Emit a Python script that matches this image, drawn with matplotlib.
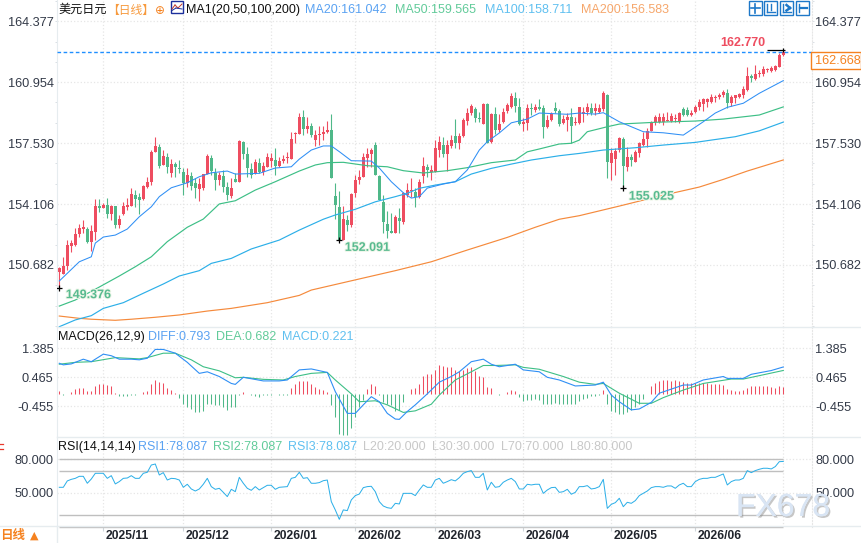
import matplotlib
matplotlib.use("Agg")
import matplotlib.pyplot as plt
import matplotlib.patheffects as pe
import numpy as np
from matplotlib.lines import Line2D
from matplotlib.patches import Rectangle
from matplotlib.ticker import AutoMinorLocator
from matplotlib.transforms import ScaledTranslation

plt.rcParams["font.family"] = ["Liberation Sans", "Noto Sans CJK SC", "DejaVu Sans"]

W, H = 862, 543

opens = [
    150.30,150.17,150.62,151.75,151.80,152.42,152.68,152.70,151.99,152.55,
    153.99,153.90,154.05,153.54,153.99,152.93,153.54,153.92,154.01,154.61,
    154.48,154.37,155.08,155.32,157.03,157.31,156.30,156.75,155.85,156.35,
    156.13,155.91,155.29,155.68,155.29,154.95,155.01,155.79,156.69,155.85,
    155.46,155.68,155.06,154.56,155.51,155.34,157.59,156.92,156.07,155.85,
    156.41,155.91,156.19,156.52,156.58,156.24,156.52,156.69,156.64,158.04,
    158.04,159.00,158.32,158.49,157.70,157.99,158.04,158.15,158.27,154.56,
    153.94,152.10,153.21,152.93,154.72,155.46,155.62,156.69,156.92,157.42,
    155.68,154.22,152.98,152.59,152.48,153.32,153.09,154.61,154.84,154.78,
    154.50,155.68,156.19,155.91,155.91,157.14,157.42,156.92,157.37,157.93,
    157.54,157.93,158.77,159.22,159.45,158.94,158.60,159.73,157.59,159.17,
    158.27,158.72,159.33,159.56,160.06,159.56,158.60,158.66,159.50,159.39,
    159.56,159.50,158.43,158.83,159.50,159.33,158.66,158.83,159.00,158.66,
    158.66,159.17,159.28,159.50,159.33,159.28,159.45,160.23,156.41,156.64,
    157.14,157.76,156.19,156.75,156.47,156.97,157.42,157.76,158.21,158.72,
    158.72,158.72,158.77,158.77,158.88,158.72,159.45,159.39,159.11,159.28,
    159.56,159.73,159.84,159.84,160.06,160.12,160.23,160.34,159.78,160.06,
    160.12,160.23,160.51,161.30,161.13,161.41,161.41,161.64,161.58,161.64,
    161.81,162.46,
]
highs = [
    150.58,151.14,152.08,152.08,152.74,152.98,153.21,152.80,152.93,154.37,
    154.37,154.18,154.43,154.05,153.99,153.49,154.23,154.43,155.02,154.89,
    154.71,155.17,155.64,157.14,157.87,157.48,157.14,156.97,156.64,156.47,
    156.58,156.13,156.13,155.91,155.57,155.57,155.79,156.92,156.86,156.13,
    155.91,156.02,155.34,155.57,155.85,157.70,157.65,157.31,156.41,156.64,
    156.69,156.47,156.97,156.97,157.25,156.75,156.86,157.03,158.15,158.15,
    159.22,159.39,159.00,158.66,158.27,158.49,158.49,158.77,159.17,155.29,
    154.84,153.99,153.49,154.72,155.74,156.02,156.97,157.25,157.25,157.59,
    155.74,154.61,153.71,153.60,153.49,153.88,154.78,155.29,155.57,155.01,
    155.51,156.75,156.35,156.30,157.70,157.93,157.87,157.70,157.99,158.88,
    158.10,158.94,159.50,159.73,159.56,159.28,159.78,159.78,159.22,159.56,
    159.17,159.50,159.78,160.34,160.40,160.06,158.94,159.73,159.78,159.73,
    160.01,159.67,159.11,159.28,159.84,159.45,159.11,159.22,159.50,159.00,
    159.56,159.56,159.78,159.78,159.78,159.73,160.46,160.29,157.25,157.25,
    157.87,157.87,157.31,156.92,157.14,157.59,158.15,158.38,158.77,159.11,
    159.22,159.22,159.28,159.22,159.17,159.28,159.56,159.56,159.39,159.67,
    160.01,160.06,160.06,160.29,160.23,160.34,160.51,160.57,160.23,160.23,
    160.34,160.74,161.81,161.41,161.92,161.64,161.86,161.75,161.86,161.92,
    162.60,162.77,
]
lows = [
    149.376,150.17,150.40,151.43,151.75,152.23,152.49,151.90,151.46,152.08,
    153.67,153.86,153.30,153.21,152.77,152.77,153.49,153.77,153.99,153.95,
    153.54,154.33,154.99,155.17,157.03,156.13,156.30,155.85,155.62,155.62,
    155.85,154.61,155.06,154.89,154.44,154.27,154.89,155.79,155.74,154.89,
    155.17,154.78,154.33,154.44,155.34,155.34,156.64,155.62,155.57,155.79,
    155.85,155.74,156.19,156.19,155.74,156.19,156.41,156.41,156.64,157.54,
    158.04,157.99,158.10,157.87,157.37,157.42,157.70,158.10,155.57,153.26,
    152.091,152.10,152.59,152.81,154.50,155.23,155.62,156.19,156.19,155.74,
    154.33,152.48,152.19,152.48,152.48,152.48,152.98,154.50,154.50,153.94,
    154.44,155.29,155.62,155.46,155.91,156.75,156.75,155.96,157.25,157.25,
    157.20,157.87,158.55,159.11,158.72,158.72,158.60,157.54,157.54,158.04,
    158.15,158.66,159.22,159.50,159.28,158.55,158.21,158.27,159.11,159.28,
    159.39,157.82,158.38,158.77,159.22,158.49,158.60,158.21,157.54,158.55,
    158.60,158.72,159.11,159.11,159.11,159.22,159.33,155.57,155.46,155.74,
    157.03,155.025,155.96,156.24,156.47,156.75,157.37,157.31,158.21,158.55,
    158.66,158.55,158.77,158.72,158.72,158.66,159.05,159.05,159.05,159.22,
    159.39,159.33,159.56,159.78,159.84,160.01,160.12,159.50,159.61,159.78,
    160.06,160.06,160.46,160.96,161.08,161.24,161.30,161.52,161.52,161.58,
    161.81,162.40,
]
closes = [
    150.49,150.62,151.80,151.90,152.42,152.74,152.80,151.99,152.59,153.99,
    153.90,154.05,153.54,154.01,152.93,153.26,153.99,154.05,154.67,154.39,
    154.33,155.12,155.32,157.03,157.37,156.24,156.80,156.19,156.35,156.19,
    156.07,155.29,155.74,155.12,155.01,155.23,155.79,156.80,155.96,155.46,
    155.74,155.06,154.61,155.01,155.34,157.65,156.92,156.13,155.74,156.47,
    155.91,156.24,156.75,156.69,156.24,156.52,156.64,156.75,157.76,158.10,
    159.00,158.32,158.49,157.99,157.99,158.04,158.15,158.27,155.57,154.05,
    152.10,153.26,152.93,154.67,155.46,155.62,156.75,156.92,157.14,155.74,
    154.33,153.09,152.59,152.48,153.38,153.15,154.72,154.89,154.89,154.50,
    155.34,156.24,156.02,156.02,157.25,157.59,156.92,157.42,157.70,157.54,
    157.93,158.83,159.22,159.61,158.94,158.88,159.73,157.54,159.17,158.27,
    158.60,159.28,159.67,160.18,159.61,158.60,158.72,159.50,159.45,159.56,
    159.45,158.43,158.83,159.17,159.33,158.60,158.88,159.00,158.49,158.72,
    159.56,159.28,159.56,159.22,159.50,159.50,160.34,156.47,156.97,157.09,
    157.82,156.24,156.75,156.58,157.03,157.54,157.76,158.21,158.66,159.00,
    159.00,159.00,158.83,159.05,158.94,159.22,159.11,159.11,159.22,159.56,
    159.84,160.01,160.01,160.12,160.12,160.23,160.40,159.78,160.12,160.23,
    160.29,160.57,161.30,161.19,161.41,161.47,161.69,161.69,161.75,161.86,
    162.48,162.668,
]

# moving averages: (bar index, value)
ma20_idx = [0,5,8,9,11,14,17,20,23,25,28,32,35,38,42,44,50,54,58,60,63,66,68,70,73,78,80,83,86,88,90,92,96,99,102,105,107,110,113,117,120,127,130,134,136,140,146,151,156,161,164,167,171,175,181]
ma20 = [149.78,150.86,151.14,151.91,152.25,152.36,152.70,153.39,153.95,154.52,155.02,155.30,155.64,155.86,155.96,155.79,155.83,156.13,156.20,156.63,157.14,157.37,157.37,157.05,156.54,156.52,156.13,155.36,154.74,154.44,154.52,155.00,155.23,155.36,156.02,157.14,157.61,158.10,158.67,158.88,159.22,159.15,159.22,159.16,159.24,158.73,158.17,158.11,157.98,158.73,159.22,159.54,159.77,160.33,161.042]
ma50_idx = [0,4,10,15,19,23,27,32,36,40,44,49,54,60,64,67,71,77,82,86,91,97,102,108,114,117,120,125,128,130,132,137,140,149,159,166,175,181]
ma50 = [148.37,148.71,149.44,150.06,150.58,151.14,151.99,152.80,153.26,154.11,154.29,154.89,155.36,155.96,156.30,156.43,156.45,156.26,156.20,155.98,155.85,155.98,156.15,156.43,156.58,157.04,157.20,157.48,157.52,157.70,158.17,158.45,158.60,158.70,158.77,158.88,159.11,159.565]
ma100_idx = [0,4,8,11,16,21,26,30,35,38,43,48,55,60,66,69,74,79,84,87,90,94,99,103,108,113,118,125,130,136,144,151,159,163,169,175,181]
ma100 = [147.21,147.59,147.83,148.24,148.56,149.09,149.61,150.06,150.36,150.77,151.05,151.58,152.08,152.64,153.25,153.49,153.81,154.23,154.52,154.71,154.99,155.17,155.36,155.79,156.11,156.35,156.58,156.82,156.95,157.14,157.27,157.42,157.57,157.70,157.89,158.22,158.711]
ma200_idx = [0,5,8,14,18,24,30,37,43,52,60,63,73,84,93,102,112,119,125,130,140,150,160,166,172,181]
ma200 = [147.81,147.68,147.63,147.57,147.63,147.74,147.87,148.09,148.24,148.56,148.97,149.27,149.79,150.36,150.86,151.52,152.23,152.80,153.25,153.45,153.99,154.55,155.06,155.49,155.96,156.583]

diff_idx = [0,1,3,6,8,11,13,15,18,20,22,24,26,29,32,35,37,40,43,44,46,51,55,57,60,63,67,69,72,74,76,78,80,82,84,85,87,89,92,95,98,100,103,106,108,110,114,116,120,122,125,129,134,136,138,140,143,145,148,150,153,156,158,161,166,167,171,173,178,181]
diff = [0.91,0.86,0.89,1.04,0.96,1.20,1.15,1.04,1.04,1.02,1.07,1.35,1.35,1.23,0.94,0.59,0.64,0.49,0.27,0.24,0.465,0.35,0.35,0.38,0.70,0.73,0.62,0.01,-0.68,-0.68,-0.41,-0.15,-0.31,-0.68,-0.86,-0.87,-0.62,-0.41,-0.06,0.31,0.49,0.64,0.96,1.04,0.88,0.80,0.88,0.70,0.64,0.465,0.38,0.19,0.22,0.31,-0.10,-0.31,-0.57,-0.54,-0.33,-0.04,0.09,0.22,0.22,0.38,0.49,0.43,0.43,0.56,0.68,0.793]
dea_idx = [0,4,8,14,20,22,26,29,33,36,40,44,46,51,56,59,63,67,69,73,75,79,82,86,89,93,95,99,103,106,109,114,116,120,126,130,134,136,140,145,148,151,156,161,168,171,174,181]
dea = [0.88,0.94,0.96,1.09,1.05,1.09,1.23,1.23,1.02,0.80,0.67,0.45,0.465,0.40,0.38,0.49,0.59,0.62,0.38,-0.06,-0.31,-0.28,-0.41,-0.65,-0.60,-0.39,-0.10,0.38,0.64,0.84,0.84,0.86,0.78,0.72,0.49,0.31,0.24,0.27,-0.04,-0.36,-0.36,-0.18,0.06,0.27,0.41,0.41,0.49,0.682]
macd_hist = [
    .08,-.05,-.03,.05,.15,.19,.18,.08,.08,.25,
    .30,.30,.28,.23,.02,-.08,-.08,-.07,-.04,-.04,
    -.03,.04,.07,.30,.44,.37,.34,.19,.11,.03,
    -.13,-.34,-.42,-.49,-.58,-.58,-.55,-.34,-.34,-.36,
    -.38,-.44,-.53,-.44,-.42,-.06,.04,-.03,-.04,-.08,
    -.11,-.06,-.05,-.04,-.03,-.05,-.04,-.05,.16,.30,
    .39,.39,.39,.30,.21,.14,.11,.06,-.35,-.76,
    -1.27,-1.32,-1.32,-1.11,-.74,-.42,-.19,.13,.29,.23,
    -.06,-.26,-.32,-.37,-.55,-.53,-.26,-.03,.13,.19,
    .30,.55,.61,.63,.76,.90,.87,.83,.83,.76,
    .72,.76,.80,.83,.72,.56,.53,.22,.19,-.02,
    -.05,-.03,.05,.11,.08,-.11,-.23,-.21,-.19,-.17,
    -.19,-.32,-.34,-.34,-.29,-.32,-.32,-.34,-.34,-.34,
    -.23,-.16,-.13,-.08,-.08,-.05,.11,-.34,-.56,-.58,
    -.66,-.66,-.58,-.53,-.42,-.32,-.16,-.03,.23,.32,
    .40,.42,.42,.40,.42,.40,.37,.34,.32,.32,
    .32,.34,.32,.30,.30,.29,.26,.13,.10,.07,
    .07,.10,.19,.24,.24,.24,.24,.24,.21,.19,
    .24,.221,
]
rsi = [
    55,55,60.7,62.1,63,64.8,64.8,58.6,62.4,67.5,
    67.5,67.5,63,65.4,58,60.1,63,63.3,65.4,63,
    63,67.5,68.4,74.9,75.8,66,68.1,61.5,63,62.7,
    61.5,55,57.7,53.5,51.7,53.5,57.7,63,55.6,53.2,
    54.1,50.5,46.7,53.2,51.1,63.9,58.6,54.1,52.3,55.6,
    52.6,54.7,56.8,56.8,53.2,55,55.3,55.6,63,63.9,
    68.4,63,63.6,58.6,58.6,59.2,60.9,61.5,42.2,34.8,
    26.4,34.8,34.2,43.7,47.6,49,54.7,55.6,55.9,51.1,
    42.2,38.3,36.8,36.2,40.7,40.1,49.6,49.6,49.6,47.6,
    52.6,57.1,55,
    55,61.5,63,58.6,60.1,61.8,60.7,63.6,67.5,69,
    69.9,63.9,63.9,67.5,52.6,59.5,55,55.6,59.5,61.5,
    63,60.1,53.5,53.5,57.7,57.1,57.7,57.7,49.6,52.6,
    54.7,55,50.5,51.1,53.2,48.8,50.5,55.6,55.6,56.5,
    53.5,54.1,55.6,62.1,36.2,39.8,41.3,45.2,37.7,41.6,
    40.7,43.1,47.6,49.6,51.7,54.7,55.6,55.6,55,56.2,
    56.2,54.1,57.1,58.6,55.6,55.6,60.1,62.1,63,63,
    63.9,63.9,65.4,66.9,57.1,60.1,61.5,61.5,63,69.9,
    68.1,69.9,71.1,72,72,71.4,73.5,77.9,78.087,
]
rsi_levels = [20, 30, 70, 80]

month_idx = [11, 31, 53, 74, 94, 116, 138, 159]
month_labels = ["2025/11", "2025/12", "2026/01", "2026/02", "2026/03", "2026/04", "2026/05", "2026/06"]
price_ticks = [164.377, 160.954, 157.530, 154.106, 150.682]
macd_ticks = [1.385, 0.465, -0.455]
rsi_ticks = [80, 50]
last_price = 162.668
marked_lows = [(0, 149.376), (70, 152.091), (141, 155.025)]
marked_high = (181, 162.770)

RED = "#ee4d60"
GREEN = "#4fb889"
C_MA20 = "#2f8ff5"
C_MA50 = "#3dbf86"
C_MA100 = "#2cafe8"
C_MA200 = "#f58a3c"
C_GRID = "#e6e6e6"
C_LINE = "#e6ecef"
C_TICK = "#333a48"
ORANGE = "#f58220"


def fx(px):
    return px / W


def fy(py):
    return 1 - py / H


def panel(top, bottom):
    # axes placed in pixel rows, x range is shared
    ax = fig.add_axes([fx(57), fy(bottom), fx(812 - 57), (bottom - top) / H])
    ax.set_xlim((57 - 59.3) / 4, (812 - 59.3) / 4)
    ax.set_facecolor("none")
    ax.grid(True, linestyle=":", color=C_GRID, linewidth=0.9)
    ax.set_axisbelow(True)
    ax.set_xticks(month_idx)
    ax.set_xticklabels([])
    ax.axvline(181, linestyle=":", color=C_GRID, linewidth=0.9, zorder=0)
    ax.spines["top"].set_visible(False)
    ax.spines["bottom"].set_visible(False)
    ax.spines["left"].set_color(C_LINE)
    ax.spines["right"].set_color(C_GRID)
    ax.spines["right"].set_linestyle(":")
    ax.tick_params(axis="x", length=0)
    ax.tick_params(axis="y", which="major", length=0, labelsize=9.2, labelcolor=C_TICK,
                   labelleft=True, labelright=True, pad=2.4)
    return ax


def fig_text(x, y, s, color="#111111", size=9, **kw):
    return fig.text(fx(x), fy(y), s, color=color, fontsize=size, va="center", ha=kw.pop("ha", "left"), **kw)


def fig_line(x0, y0, x1, y1, color=C_LINE, lw=1.0):
    fig.add_artist(Line2D([fx(x0), fx(x1)], [fy(y0), fy(y1)], color=color, linewidth=lw))


def fig_box(x0, y0, x1, y1, edge, face="white", lw=1.0):
    fig.add_artist(Rectangle((fx(x0), fy(y1)), (x1 - x0) / W, (y1 - y0) / H,
                             edgecolor=edge, facecolor=face, linewidth=lw,
                             transform=fig.transFigure))


fig = plt.figure(figsize=(W / 100, H / 100), dpi=100, facecolor="white")

x = np.arange(len(closes))
o, h, l, c = map(np.array, (opens, highs, lows, closes))
up = c >= o
colors = np.where(up, RED, GREEN)

# candles + moving averages
ax_main = panel(0, 327)
ax_main.set_ylim(165.574 - 0.05621 * 327, 165.574)
ax_main.set_yticks(price_ticks)
ax_main.set_yticklabels([f"{v:.3f}" for v in price_ticks])
ax_main.yaxis.set_minor_locator(AutoMinorLocator(3))
ax_main.tick_params(axis="y", which="minor", length=1.5, color="#d5dbe0", left=True, right=True)
ax_main.vlines(x, l, h, colors=colors, linewidth=0.8, zorder=2)
ax_main.bar(x, np.maximum(np.abs(c - o), 0.05), bottom=np.minimum(o, c), width=0.76,
            color=colors, linewidth=0, zorder=2)
for idx, vals, col, lw in [(ma200_idx, ma200, C_MA200, 0.85), (ma100_idx, ma100, C_MA100, 0.85),
                           (ma50_idx, ma50, C_MA50, 0.85), (ma20_idx, ma20, C_MA20, 0.75)]:
    ax_main.plot(idx, vals, color=col, linewidth=lw, zorder=3)
ax_main.axhline(last_price, color="#1f8fff", linewidth=1.0, dashes=(2.6, 1.8), zorder=3)

# extreme markers with their values
for i, val in marked_lows:
    ax_main.plot(i, val, "+", color="black", markersize=5, markeredgewidth=0.9, zorder=4)
    off = {0: (6.5, -7), 70: (5.5, -8), 141: (5.5, -9)}[i]
    ax_main.annotate(f"{val:.3f}", (i, val), xytext=off, textcoords="offset pixels",
                     color="#58ba90", fontsize=9, fontweight="bold", ha="left", va="center",
                     path_effects=[pe.withStroke(linewidth=1.4, foreground="#eef6e8")])
hi_i, hi_v = marked_high
ax_main.hlines(hi_v, hi_i - 4, hi_i + 0.5, color="black", linewidth=0.9, zorder=4)
ax_main.vlines(hi_i, hi_v - 0.1, hi_v + 0.1, color="black", linewidth=0.9, zorder=4)
ax_main.annotate(f"{hi_v:.3f}", (hi_i, hi_v), xytext=(-18, 6.5), textcoords="offset pixels",
                 color=RED, fontsize=9, fontweight="bold", ha="right", va="center")

# MACD
ax_macd = panel(327, 436.5)
ax_macd.set_ylim(0.465 + (377.3 - 436.5) / 31.5, 0.465 + (377.3 - 327) / 31.5)
ax_macd.set_yticks(macd_ticks)
ax_macd.set_yticklabels([f"{v:.3f}" for v in macd_ticks])
hist = np.array(macd_hist)
hist_base = -0.05
ax_macd.vlines(x, hist_base, hist_base + hist, colors=np.where(hist >= 0, RED, GREEN), linewidth=0.75, zorder=2)
ax_macd.plot(dea_idx, dea, color=C_MA50, linewidth=0.8, zorder=3)
ax_macd.plot(diff_idx, diff, color=C_MA20, linewidth=0.8, zorder=3)

# RSI
ax_rsi = panel(436.5, 526.5)
ax_rsi.set_ylim(20, 80 + (459.3 - 436.5) / 1.12)
ax_rsi.set_yticks(rsi_ticks)
ax_rsi.set_yticklabels([f"{v:.3f}" for v in rsi_ticks])
ax_rsi.hlines(rsi_levels, 0, x[-1], color="#bfbfbf", linewidth=1.0, zorder=2, clip_on=False)
ax_rsi.plot(x, rsi, color="#2cafe8", linewidth=0.72, zorder=3)
ax_rsi.tick_params(axis="x", length=3, color="#cfd6da", pad=-0.8)
ax_rsi.set_xticklabels(month_labels, ha="left", fontweight="bold", fontsize=8.7, color="#20242c")
for lbl in ax_rsi.get_xticklabels():
    lbl.set_transform(lbl.get_transform() + ScaledTranslation(2 / 100, 0, fig.dpi_scale_trans))

# panel separators and the bottom band
fig_line(57, 327, 862, 327)
fig_line(57, 436.7, 862, 436.7)
fig_line(0, 526, 862, 526)
fig_line(57, 526, 57, 543)
fig_line(0, 443.5, 3, 443.5, color="#e8382c", lw=0.9)
fig_line(0, 448.5, 3, 448.5, color="#e8382c", lw=0.9)

# header row of the price panel
fig_text(58, 10, "美元日元", size=8.7)
fig_text(107, 10.5, "【日线】", color="#f79a3e", size=8.5)
fig_text(160, 11, "⊕", color=ORANGE, size=8.5, ha="center", family=["DejaVu Sans"])
fig_box(172, 2, 184, 14, "none", face="#8a8fa0", lw=0)
fig_box(171, 1, 182.5, 12.5, "#1c2f9c", lw=1.0)
fig_line(172, 9, 175, 5, color="#c0392b", lw=0.7)
fig_line(175, 5, 178, 8, color="#c0392b", lw=0.7)
fig_line(178, 8, 182, 4, color="#c0392b", lw=0.7)
fig_line(172, 10.5, 176, 8, color="#1c2f9c", lw=0.7)
fig_line(176, 8, 182, 9, color="#1c2f9c", lw=0.7)
fig_text(186, 10, "MA1(20,50,100,200)")
fig_text(305, 10, f"MA20:{ma20[-1]:.3f}", color="#5aa2f2")
fig_text(395, 10, f"MA50:{ma50[-1]:.3f}", color="#62cb9a")
fig_text(485, 10, f"MA100:{ma100[-1]:.3f}", color="#60c0f0")
fig_text(581, 10, f"MA200:{ma200[-1]:.3f}", color="#f6a76c")

# toolbar buttons, top right
BTN = "#1e78c8"
for x0 in (749, 764.3, 780.3, 796.3):
    fig_box(x0, 1.3, x0 + 13, 14.7, BTN, lw=1.0)
fig_line(751, 8, 760, 8, color=BTN, lw=1.2)
fig_line(755.5, 3.5, 755.5, 12.5, color=BTN, lw=1.2)
fig_line(767.5, 4, 767.5, 12, color=BTN, lw=1.0)
fig_line(767.5, 12, 775, 12, color=BTN, lw=1.0)
fig_line(771, 4, 771, 10, color=BTN, lw=1.0)
fig_line(783.5, 4, 783.5, 12, color=BTN, lw=1.0)
fig_line(783.5, 12, 791, 12, color=BTN, lw=1.0)
fig_line(786.5, 5, 790, 8, color=BTN, lw=1.8)
fig_line(790, 8, 786.5, 10.5, color=BTN, lw=1.8)
fig_line(799.5, 4, 799.5, 12, color=BTN, lw=1.0)
fig_line(800, 8, 807, 8, color=BTN, lw=1.6)

# latest price tag on the right axis
fig_box(811.5, 52.3, 861.5, 69.3, ORANGE, lw=1.0)
fig_text(815, 60.8, f"{last_price:.3f}", color=ORANGE, size=9.2)

# indicator headers
fig_text(58, 336.8, "MACD(26,12,9)")
fig_text(148, 336.8, f"DIFF:{diff[-1]:.3f}", color="#5aa2f2")
fig_text(216, 336.8, f"DEA:{dea[-1]:.3f}", color="#62cb9a")
fig_text(282, 336.8, f"MACD:{macd_hist[-1]:.3f}", color="#60c0f0")
fig_text(58, 446.8, "RSI(14,14,14)")
fig_text(137.7, 446.8, f"RSI1:{rsi[-1]:.3f}", color="#5aa2f2")
fig_text(212.7, 446.8, f"RSI2:{rsi[-1]:.3f}", color="#62cb9a")
fig_text(287.7, 446.8, f"RSI3:{rsi[-1]:.3f}", color="#60c0f0")
for px, lv in zip((362.7, 431.7, 500.7, 569.7), rsi_levels):
    fig_text(px, 446.8, f"L{lv}:{lv:.3f}", color="#c8c8c8")

# period selector, bottom left
fig_text(0.5, 535.5, "日线", color=ORANGE, size=9, fontweight="bold")
fig_text(34, 535.5, "▲", color=ORANGE, size=8, ha="center", family=["DejaVu Sans"])

# site watermark
fig_text(736, 508, "FX678", color="#d9e5f4", size=23,
         path_effects=[pe.withSimplePatchShadow(offset=(1.2, -1.2), shadow_rgbFace="#8f8f8f", alpha=0.5),
                       pe.Normal()])

fig.savefig("out.png", dpi=100, facecolor="white")
